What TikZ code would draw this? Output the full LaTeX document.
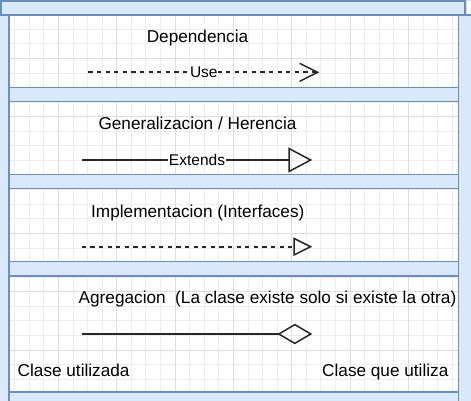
\documentclass[tikz,border=0pt]{standalone}
\usepackage{fontspec}
\setmainfont{Liberation Sans}
\usetikzlibrary{arrows.meta}
\definecolor{bandfill}{HTML}{DAE8FC}
\definecolor{bandline}{HTML}{6C8EBF}
\tikzset{
  gridmin/.style={draw=black!7, line width=0.8pt},
  gridmaj/.style={draw=black!13, line width=0.8pt},
  band/.style={fill=bandfill, draw=bandline, line width=1.2pt},
  ttl/.style={font=\fontsize{17.2}{20}\selectfont, inner sep=0pt, anchor=base},
  txt/.style={font=\fontsize{17.2}{20}\selectfont, inner sep=0pt, anchor=base west},
  lbl/.style={font=\fontsize{15.5}{18}\selectfont, fill=white, inner sep=0.6pt},
  rel/.style={draw=black!85, line width=1.5pt},
  depline/.style={rel, line width=1.8pt, dash pattern=on 4.3pt off 4.3pt, -{Straight Barb[length=18pt, width=18pt, line width=1.5pt]}},
  genline/.style={rel, -{Triangle[open, length=24pt, width=25pt]}},
  impline/.style={rel, line width=1.8pt, dash pattern=on 4.3pt off 4.3pt, -{Triangle[open, length=19pt, width=18.5pt, line width=1.5pt]}},
  aggline/.style={rel, -{Diamond[open, length=35pt, width=20.5pt]}},
}
\begin{document}
\begin{tikzpicture}[x=1pt, y=-1pt]
\useasboundingbox (0,0) rectangle (471,400);
% background grid
\foreach \i in {0,...,32} {\draw[gridmin] (\i*14.583,0) -- (\i*14.583,400);}
\foreach \j in {0,...,27} {\draw[gridmin] (0,\j*14.583) -- (471,\j*14.583);}
\foreach \i in {0,...,8} {\draw[gridmaj] (\i*58.333,0) -- (\i*58.333,400);}
\foreach \j in {0,...,6} {\draw[gridmaj] (0,\j*58.333) -- (471,\j*58.333);}
% texts
\node[ttl] (dep-t) at (197.5,42.5) {Dependencia};
\node[ttl] (gen-t) at (197.5,129.5) {Generalizacion / Herencia};
\node[ttl] (imp-t) at (197.8,217) {Implementacion (Interfaces)};
\node[txt] (agg-t) at (78.5,303.5) {Agregacion\ \ (La clase existe solo si existe la otra)};
\node[txt] (used) at (17.5,376) {Clase utilizada};
\node[txt] (user) at (322,376) {Clase que utiliza};
% relations
\coordinate (dep-s) at (88.3,72.3);  \coordinate (dep-e) at (319.3,72.3);
\coordinate (gen-s) at (81.7,160);   \coordinate (gen-e) at (312.3,160);
\coordinate (imp-s) at (81.7,246.7); \coordinate (imp-e) at (312.3,246.7);
\coordinate (agg-s) at (81.7,334);   \coordinate (agg-e) at (312.3,334);
\draw[depline] (dep-s) -- node[lbl] {Use} (dep-e);
\draw[genline] (gen-s) -- node[lbl] {Extends} (gen-e);
\draw[impline] (imp-s) -- (imp-e);
\draw[aggline] (agg-s) -- (agg-e);
% container frame
\draw[band] (-2,15) rectangle (9,402);
\draw[band] (458.7,15) rectangle (473,402);
\draw[band] (1,1) rectangle (465,15);
\draw[band] (9,87.3) rectangle (458.7,101.3);
\draw[band] (9,174.5) rectangle (458.7,188.7);
\draw[band] (9,261.5) rectangle (458.7,276);
\draw[band] (9,392) rectangle (458.7,402);
\end{tikzpicture}
\end{document}
